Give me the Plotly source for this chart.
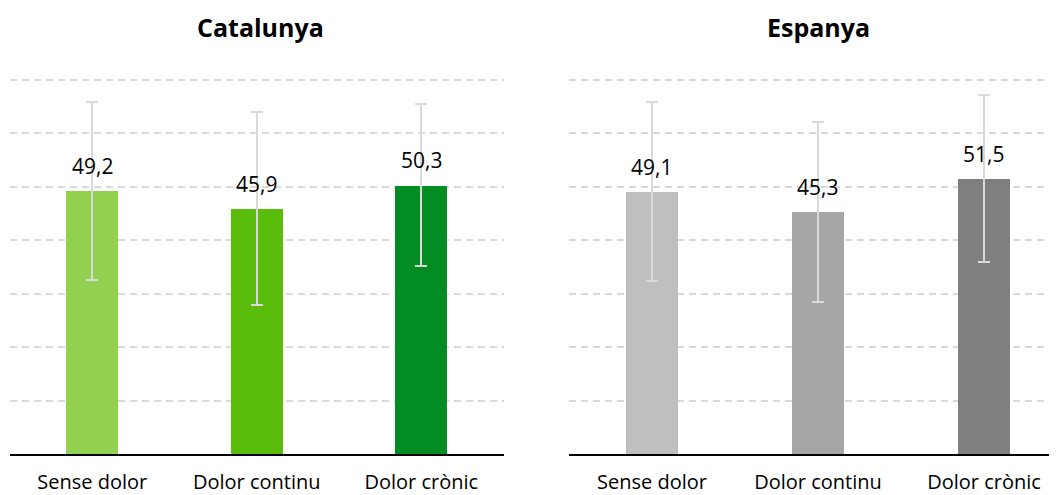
import plotly.graph_objects as go

categories = ["Sense dolor", "Dolor continu", "Dolor crònic"]

cat_values = [49.2, 45.9, 50.3]
cat_err_plus = [16.6, 18.1, 15.3]
cat_err_minus = [16.6, 18.1, 15.2]

esp_values = [49.1, 45.3, 51.5]
esp_err_plus = [16.8, 16.9, 15.7]
esp_err_minus = [16.8, 16.8, 15.6]

cat_colors = ["#92D050", "#5ABD0C", "#038C22"]
esp_colors = ["#BFBFBF", "#A6A6A6", "#7F7F7F"]

titles = ["Catalunya", "Espanya"]

FONT = "Open Sans"
OFF = 8  # page body margin
W, H = 1057 - OFF, 495 - OFF


def px(sx):
    return (sx - OFF) / W


def py(sy):
    return 1 - (sy - OFF) / H


Y_MAX = 71
base_y = 454
unit = (454 - 80) / 70
top_y = base_y - Y_MAX * unit

fig = go.Figure()

for i, (vals, ep, em, cols) in enumerate([
    (cat_values, cat_err_plus, cat_err_minus, cat_colors),
    (esp_values, esp_err_plus, esp_err_minus, esp_colors),
]):
    xa = "x" if i == 0 else "x2"
    ya = "y" if i == 0 else "y2"
    fig.add_trace(go.Bar(
        x=categories, y=vals, xaxis=xa, yaxis=ya,
        marker=dict(color=cols, line=dict(width=0)),
        width=0.316,
        error_y=dict(type="data", symmetric=False, array=ep, arrayminus=em,
                     color="#D9D9D9", thickness=2, width=6),
        showlegend=False, hoverinfo="skip",
    ))
    for c, v in zip(categories, vals):
        fig.add_annotation(
            x=c, y=v, xref=xa, yref=ya, text=f"{v:.1f}".replace(".", ","),
            showarrow=False, yanchor="middle", yshift=25,
            font=dict(family=FONT, size=21, color="#000000"),
        )

yaxis_common = dict(
    range=[0, Y_MAX], dtick=10, showticklabels=False, zeroline=False,
    showgrid=True, gridcolor="#D9D9D9", gridwidth=1.5, griddash="7px,5px",
    domain=[py(base_y), py(top_y)], automargin=False,
)
xaxis_common = dict(
    showline=True, linecolor="#000000", linewidth=2, ticks="",
    tickfont=dict(family=FONT, size=20, color="#000000"),
    ticklabelstandoff=9, automargin=False,
    showgrid=False, zeroline=False,
)

fig.update_layout(
    width=W, height=H,
    margin=dict(l=0, r=0, t=0, b=0),
    paper_bgcolor="#FFFFFF", plot_bgcolor="#FFFFFF",
    bargap=0,
    xaxis=dict(**xaxis_common, domain=[px(10), px(503.5)], range=[-0.5, 2.5]),
    xaxis2=dict(**xaxis_common, domain=[px(569), 1.0], range=[-0.5, 2.44], anchor="y2"),
    yaxis=dict(**yaxis_common, anchor="x"),
    yaxis2=dict(**yaxis_common, anchor="x2"),
)

for t, xs in zip(titles, [260, 818.5]):
    fig.add_annotation(
        x=px(xs), y=py(27), xref="paper", yref="paper", text=f"<b>{t}</b>",
        showarrow=False, xanchor="center", yanchor="middle",
        font=dict(family=FONT, size=25, color="#000000"),
    )

fig.write_html("out.html")
